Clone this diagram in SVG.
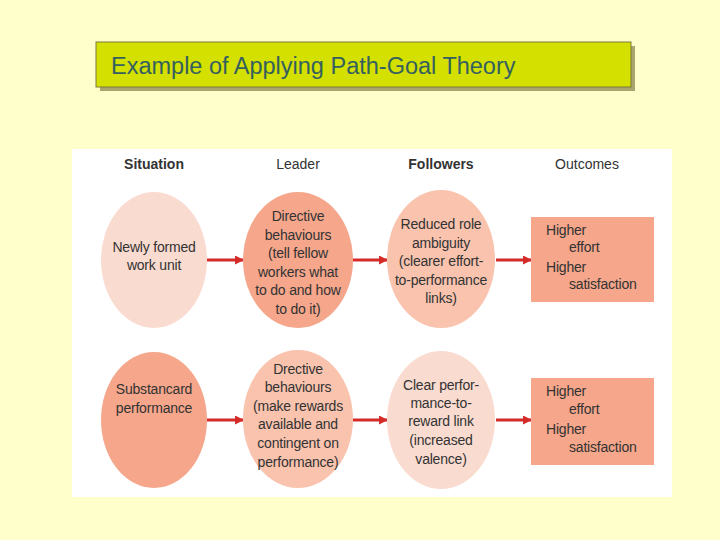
<svg xmlns="http://www.w3.org/2000/svg" width="720" height="540" viewBox="0 0 720 540">
<defs>
<marker id="ah" markerWidth="9" markerHeight="9" refX="8" refY="4.5" orient="auto" markerUnits="userSpaceOnUse">
<path d="M0,0 L9,4.5 L0,9 Z" fill="#D42A2A"/>
</marker>
</defs>
<style>
.t{font-family:"Liberation Sans",Arial,sans-serif;font-size:14px;fill:#333333;text-anchor:middle;letter-spacing:-0.2px}
.l{text-anchor:start}
.h{font-family:"Liberation Sans",Arial,sans-serif;font-size:14px;fill:#333333;text-anchor:middle;font-weight:bold}
.hn{font-weight:normal}
.c{stroke:#D42A2A;stroke-width:3;fill:none;marker-end:url(#ah)}
.p1{fill:#FADBD0}
.p2{fill:#F9C3AE}
.p3{fill:#F5A68B}
</style>
<rect width="720" height="540" fill="#FFFFCC"/>
<g id="title">
<rect x="100" y="46" width="535" height="45" fill="#A9A56C"/>
<rect x="96" y="42" width="535" height="45" fill="#D4E000" stroke="#7A7A3A" stroke-width="1"/>
<text x="111" y="74" font-family="'Liberation Sans',Arial,sans-serif" font-size="23.5" fill="#34605F">Example of Applying Path-Goal Theory</text>
</g>
<rect x="72" y="149" width="600" height="348" fill="#FFFFFF"/>
<g id="headers">
<text class="h" x="154" y="169">Situation</text>
<text class="h hn" x="298" y="169">Leader</text>
<text class="h" x="441" y="169">Followers</text>
<text class="h hn" x="587" y="169">Outcomes</text>
</g>
<g id="connectors">
<line class="c" x1="207" y1="260" x2="243" y2="260"/>
<line class="c" x1="353" y1="260" x2="387" y2="260"/>
<line class="c" x1="496" y1="260" x2="531" y2="260"/>
<line class="c" x1="207" y1="420" x2="243" y2="420"/>
<line class="c" x1="353" y1="420" x2="387" y2="420"/>
<line class="c" x1="496" y1="420" x2="531" y2="420"/>
</g>
<g id="situation1">
<ellipse class="p1" cx="154" cy="260" rx="53" ry="68"/>
<text class="t" x="154" y="252">Newly formed</text>
<text class="t" x="154" y="270">work unit</text>
</g>
<g id="leader1">
<ellipse class="p3" cx="298" cy="260" rx="55" ry="68"/>
<text class="t" x="298" y="221">Directive</text>
<text class="t" x="298" y="240">behaviours</text>
<text class="t" x="298" y="258">(tell fellow</text>
<text class="t" x="298" y="277">workers what</text>
<text class="t" x="298" y="295">to do and how</text>
<text class="t" x="298" y="314">to do it)</text>
</g>
<g id="followers1">
<ellipse class="p2" cx="441" cy="259" rx="54" ry="69"/>
<text class="t" x="441" y="229">Reduced role</text>
<text class="t" x="441" y="248">ambiguity</text>
<text class="t" x="441" y="266">(clearer effort-</text>
<text class="t" x="441" y="285">to-performance</text>
<text class="t" x="441" y="303">links)</text>
</g>
<g id="outcome1">
<rect class="p3" x="531" y="217" width="123" height="85"/>
<text class="t l" x="546" y="235">Higher</text>
<text class="t l" x="569" y="252">effort</text>
<text class="t l" x="546" y="272">Higher</text>
<text class="t l" x="569" y="289">satisfaction</text>
</g>
<g id="situation2">
<ellipse class="p3" cx="154" cy="420" rx="53" ry="68"/>
<text class="t" x="154" y="394">Substancard</text>
<text class="t" x="154" y="413">performance</text>
</g>
<g id="leader2">
<ellipse class="p2" cx="298" cy="419" rx="55" ry="69"/>
<text class="t" x="298" y="374">Drective</text>
<text class="t" x="298" y="392">behaviours</text>
<text class="t" x="298" y="411">(make rewards</text>
<text class="t" x="298" y="429">available and</text>
<text class="t" x="298" y="448">contingent on</text>
<text class="t" x="298" y="467">performance)</text>
</g>
<g id="followers2">
<ellipse class="p1" cx="441" cy="420" rx="54" ry="69"/>
<text class="t" x="441" y="390">Clear perfor-</text>
<text class="t" x="441" y="408">mance-to-</text>
<text class="t" x="441" y="426">reward link</text>
<text class="t" x="441" y="445">(increased</text>
<text class="t" x="441" y="464">valence)</text>
</g>
<g id="outcome2">
<rect class="p3" x="531" y="378" width="123" height="87"/>
<text class="t l" x="546" y="396">Higher</text>
<text class="t l" x="569" y="414">effort</text>
<text class="t l" x="546" y="434">Higher</text>
<text class="t l" x="569" y="452">satisfaction</text>
</g>
</svg>
